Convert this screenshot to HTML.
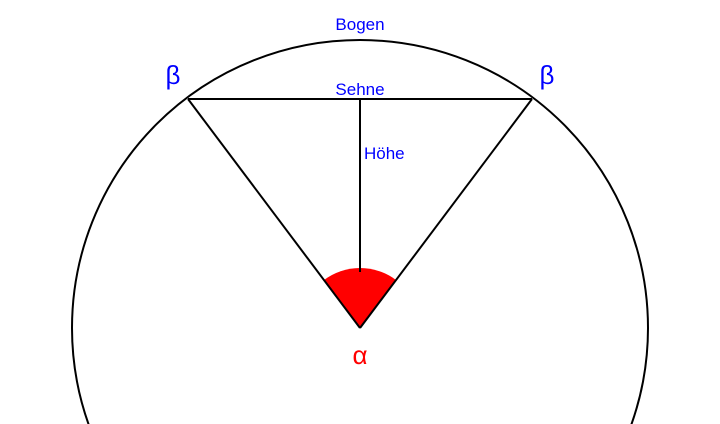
<!DOCTYPE html>
<html><head><meta charset="utf-8"><style>html,body{margin:0;padding:0;background:#fff;width:720px;height:424px;overflow:hidden;}svg{display:block}</style></head>
<body>
<svg width="720" height="424" viewBox="0 0 720 424" xmlns="http://www.w3.org/2000/svg" overflow="hidden">
<rect width="720" height="424" fill="#fff"/>
<circle cx="360" cy="328" r="288" fill="none" stroke="#000" stroke-width="2"/>
<path d="M360,328 L324,280 A60,60 0 0 1 396,280 Z" fill="#f00"/>
<line x1="188" y1="99" x2="532" y2="99" stroke="#000" stroke-width="2"/>
<line x1="188" y1="99" x2="360" y2="328" stroke="#000" stroke-width="2"/>
<line x1="532" y1="99" x2="360" y2="328" stroke="#000" stroke-width="2"/>
<line x1="360" y1="99" x2="360" y2="272" stroke="#000" stroke-width="2"/>
<g font-family="Liberation Sans, sans-serif" fill="#0000ff">
<text x="360" y="30" font-size="17" text-anchor="middle">Bogen</text>
<text x="360" y="95" font-size="17" text-anchor="middle">Sehne</text>
<text x="364" y="159" font-size="17">Höhe</text>
<text x="173" y="84" font-size="26" text-anchor="middle">β</text>
<text x="547" y="84" font-size="26" text-anchor="middle">β</text>
</g>
<text x="360" y="364" font-family="Liberation Sans, sans-serif" font-size="26" fill="#f00" text-anchor="middle">α</text>
</svg>
</body></html>
